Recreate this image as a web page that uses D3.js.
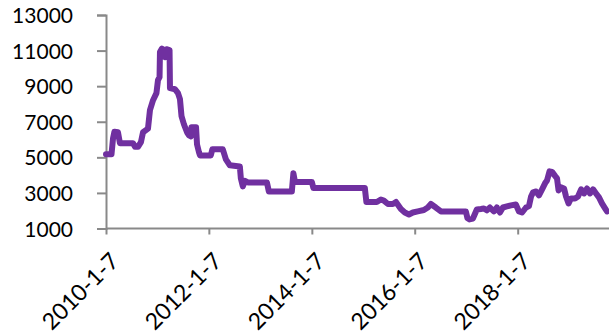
<!DOCTYPE html>
<html><head><meta charset="utf-8">
<script src="https://cdn.jsdelivr.net/npm/d3@7"></script>
<style>html,body{margin:0;padding:0;background:#fff;}svg{display:block;}</style>
</head><body>
<svg id="c" width="609" height="336"></svg>
<script>
const dates = ["2010-01-07","2010-02-15","2010-02-26","2010-03-08","2010-04-02","2010-04-16","2010-07-18","2010-08-01","2010-08-22","2010-09-12","2010-09-27","2010-11-01","2010-11-15","2010-12-07","2010-12-31","2011-01-11","2011-01-22","2011-01-25","2011-02-08","2011-02-23","2011-03-02","2011-03-12","2011-04-03","2011-04-06","2011-05-12","2011-06-02","2011-06-16","2011-06-27","2011-07-14","2011-08-05","2011-08-19","2011-09-02","2011-09-06","2011-10-08","2011-10-15","2011-10-29","2011-11-05","2012-01-21","2012-02-01","2012-04-15","2012-05-07","2012-06-04","2012-08-14","2012-08-21","2012-09-04","2012-09-19","2012-10-10","2013-02-22","2013-03-08","2013-08-18","2013-08-29","2013-09-09","2014-01-07","2014-01-18","2015-01-18","2015-01-29","2015-04-13","2015-05-12","2015-06-02","2015-07-01","2015-08-05","2015-08-27","2015-10-01","2015-10-29","2015-11-27","2015-12-25","2016-01-29","2016-03-12","2016-04-09","2016-05-01","2016-06-05","2016-07-11","2017-01-04","2017-01-15","2017-01-29","2017-02-23","2017-03-23","2017-04-21","2017-05-12","2017-06-02","2017-06-24","2017-07-22","2017-08-12","2017-09-03","2017-09-24","2017-10-22","2017-11-20","2017-12-25","2018-01-16","2018-02-07","2018-03-07","2018-03-28","2018-04-12","2018-04-26","2018-05-17","2018-06-07","2018-06-29","2018-07-20","2018-08-03","2018-08-21","2018-09-08","2018-09-29","2018-10-13","2018-10-24","2018-11-11","2018-12-02","2018-12-16","2019-01-03","2019-01-20","2019-02-18","2019-03-11","2019-04-02","2019-04-23","2019-05-14","2019-06-04","2019-06-26","2019-07-17","2019-08-07","2019-08-28","2019-09-19","2019-10-03"];
const prices = [5170,5170,6070,6440,6410,5790,5790,5590,5590,5850,6410,6610,7650,8210,8610,9340,9510,10920,11110,11030,10630,11080,11030,8890,8830,8610,8270,7310,6860,6410,6240,6180,6690,6690,5730,5280,5110,5110,5450,5450,4890,4550,4490,3820,3370,3680,3590,3590,3080,3080,4100,3620,3620,3280,3280,2490,2490,2630,2570,2380,2380,2490,2100,1900,1790,1900,1960,2040,2180,2380,2180,1960,1960,1590,1510,1560,2070,2100,2130,2020,2180,1960,2180,1900,2180,2240,2300,2350,1960,1900,2180,2260,2800,3030,3080,2860,3200,3540,3700,4210,4180,3960,3820,3140,3310,3250,2800,2410,2690,2690,2800,3200,2970,3250,2970,3200,2970,2750,2410,2130,1960];
const yTicks = [1000,3000,5000,7000,9000,11000,13000];
const xTickLabels = ["2010-1-7","2012-1-7","2014-1-7","2016-1-7","2018-1-7"];

const parse = d3.timeParse("%Y-%m-%d");
const data = dates.map((d,i)=>({date: parse(d), value: prices[i]}));
const tickDates = xTickLabels.map(s => d3.timeParse("%Y-%-m-%-d")(s));

const svg = d3.select("#c");
const x = d3.scaleTime().domain([parse("2010-01-07"), parse("2019-10-17")]).range([106, 609]);
const y = d3.scaleLinear().domain([1000, 13000]).range([228.5, 15]);
const axisColor = "#898989";
const font = "Lato, 'Open Sans', sans-serif";

// y axis
const ya = svg.append("g").attr("transform","translate(106,0)")
  .call(d3.axisLeft(y).tickValues(yTicks).tickSize(9).tickPadding(24).tickFormat(d3.format("d")));
ya.select(".domain").attr("stroke", axisColor).attr("stroke-width", 2);
ya.selectAll(".tick line").attr("stroke", axisColor).attr("stroke-width", 2);
ya.selectAll(".tick text").attr("font-family", font).attr("font-size", 21).attr("fill", "#000")
  .attr("dy", "0.36em");

// x axis
const xa = svg.append("g").attr("transform","translate(0,228.5)")
  .call(d3.axisBottom(x).tickValues(tickDates).tickSize(6).tickFormat((d,i)=>xTickLabels[i]));
xa.select(".domain").attr("stroke", axisColor).attr("stroke-width", 2)
  .attr("d", "M106,0H609");
xa.selectAll(".tick line").attr("stroke", axisColor).attr("stroke-width", 2);
xa.selectAll(".tick text").attr("font-family", font).attr("font-size", 23).attr("fill", "#000")
  .attr("text-anchor", "end").attr("dy", 0).attr("y", 0)
  .attr("transform", "translate(14,34) rotate(-45)");

// line
const line = d3.line().x(d=>x(d.date)).y(d=>y(d.value)).curve(d3.curveLinear);
svg.append("path").datum(data).attr("d", line)
  .attr("fill","none").attr("stroke","#7030A0").attr("stroke-width",6)
  .attr("stroke-linejoin","round").attr("stroke-linecap","round");
</script>
</body></html>
